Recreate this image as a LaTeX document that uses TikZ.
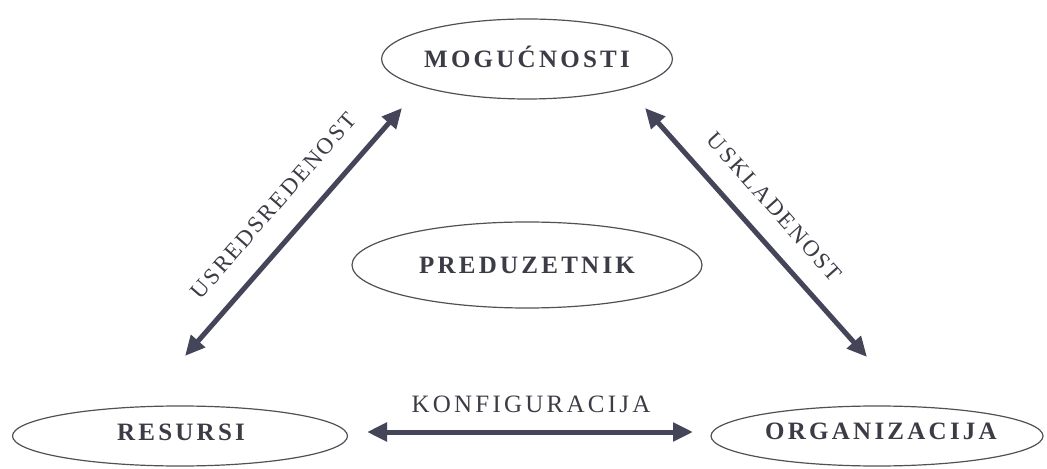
\documentclass[tikz,border=0pt]{standalone}
\usepackage{fontspec}
\setmainfont{Liberation Serif}
\newfontfamily\lblfont[LetterSpace=13]{Liberation Serif}
\newfontfamily\diagfont[LetterSpace=10]{Liberation Serif}
\usetikzlibrary{shapes.geometric,arrows.meta}
\definecolor{arrowcol}{HTML}{45455A}
\definecolor{textcol}{HTML}{3C3C46}
\definecolor{linecol}{HTML}{505058}
\tikzset{
  oval/.style={ellipse, draw=linecol, line width=0.6pt, inner sep=0pt,
    text=textcol, font=\lblfont\fontsize{12.5}{14}\selectfont\bfseries,
    text height=8.3pt, text depth=0pt},
  boldtxt/.style={text=textcol, font=\lblfont\fontsize{12.5}{14}\selectfont\bfseries,
    text height=8.3pt, text depth=0pt, inner sep=0pt},
  dbl/.style={{Triangle[length=10pt,width=9pt]}-{Triangle[length=10pt,width=9pt]},
    draw=arrowcol, line width=2.5pt},
  lbl/.style={text=textcol, inner sep=0pt, font=\diagfont\fontsize{11.5}{13}\selectfont,
    text height=7.6pt, text depth=0pt},
  plaintxt/.style={text=textcol, inner sep=0pt, font=\lblfont\fontsize{12.5}{14}\selectfont,
    text height=8.3pt, text depth=0pt}
}
\begin{document}
\begin{tikzpicture}[x=0.5pt,y=-0.5pt]
\useasboundingbox (0,0) rectangle (1047,469);
\fill[white] (0,0) rectangle (1047,469);
\node[oval, minimum width=124.5pt, minimum height=40pt] (mog) at (527,59) {MOGUĆNOSTI};
\node[oval, minimum width=175pt, minimum height=43pt] (pred) at (527,265) {PREDUZETNIK};
\node[oval, minimum width=167.5pt, minimum height=30pt] (res) at (180,436) {};
\node[boldtxt] (restxt) at (181,432.5) {RESURSI};
\node[oval, minimum width=166pt, minimum height=30pt] (org) at (877,436) {};
\node[boldtxt] (orgtxt) at (881,431) {ORGANIZACIJA};
\coordinate (lb) at (185,356);
\coordinate (lt) at (402,108);
\coordinate (rt) at (645,108);
\coordinate (rb) at (867,357);
\coordinate (bl) at (367,432);
\coordinate (br) at (693,432);
\draw[dbl] (lb) -- node[lbl, sloped, pos=0.52, above=11.2pt] (usr) {USREDSREDENOST} (lt);
\draw[dbl] (rt) -- node[lbl, sloped, pos=0.48, above=10.4pt] (usk) {USKLADENOST} (rb);
\draw[dbl] (bl) -- (br);
\node[plaintxt] (konf) at (531,404.5) {KONFIGURACIJA};
\end{tikzpicture}
\end{document}
